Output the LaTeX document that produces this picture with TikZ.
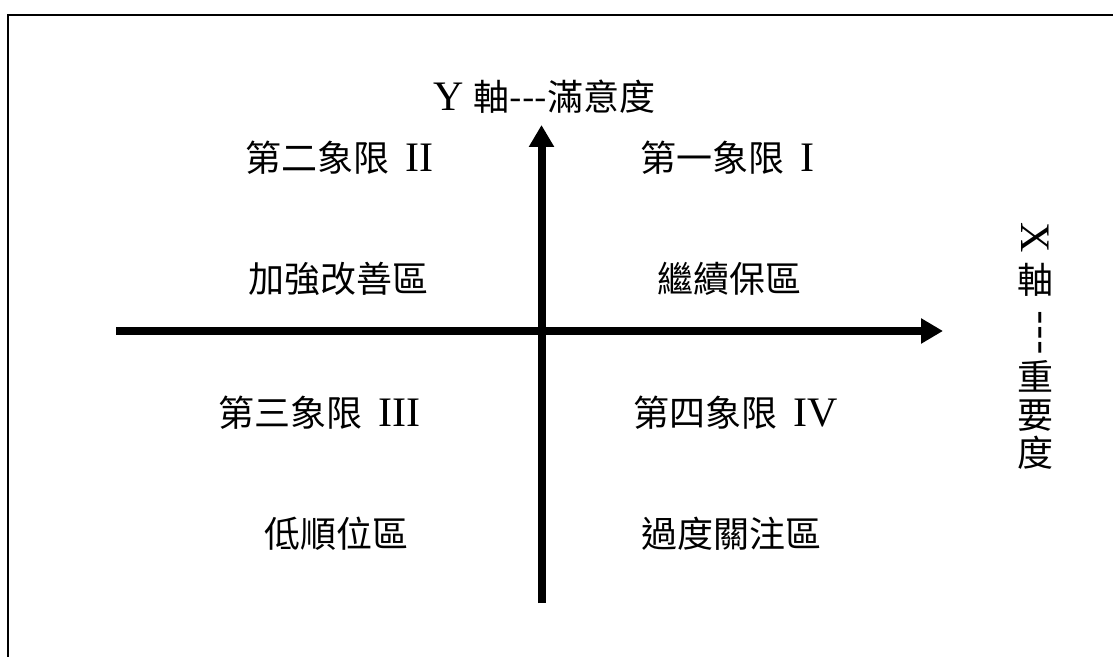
\documentclass[tikz,border=0pt]{standalone}
\usepackage{fontspec}
\setmainfont{Liberation Serif}
\newfontfamily\cjk{Noto Sans CJK TC}
\usetikzlibrary{arrows.meta}
\newcommand\latn[1]{{\fontsize{21}{22}\selectfont #1}}

\begin{document}
\begin{tikzpicture}[x=0.5pt,y=-0.5pt,
    axis/.style={line width=4pt,-{Triangle[length=11pt,width=12pt]}},
    quad/.style={font=\fontsize{18}{19}\selectfont,inner sep=0pt},
    vert/.style={quad,align=center}]
    \useasboundingbox (0,0) rectangle (1113,657);
    \draw[line width=1pt] (1113,15.5) -- (8,15.5) -- (8,657);
    % axes
    \coordinate (left) at (116,331);
    \coordinate (right) at (943,331);
    \coordinate (bottom) at (541.5,603);
    \coordinate (top) at (541.5,125);
    \draw[axis] (left) -- (right);
    \draw[axis] (bottom) -- (top);
    \node[quad,anchor=west] (ylabel) at (433,97) {\latn{Y}\hspace{5pt}{\cjk 軸---滿意度}};
    \node[vert] (xlabel) at (1035,346) {\rotatebox[origin=c]{-90}{\latn{X}}\\[2pt]{\cjk 軸}\\[4pt]\rotatebox[origin=c]{-90}{\fontsize{21}{22}\cjk ---}\\[2pt]{\cjk 重}\\{\cjk 要}\\{\cjk 度}};
    % quadrants
    \node[quad,anchor=west] (q2) at (245,158) {{\cjk 第二象限}\hspace{8pt}\latn{II}};
    \node[quad,anchor=west] (q1) at (640,158) {{\cjk 第一象限}\hspace{8pt}\latn{I}};
    \node[quad] (q2name) at (338,279) {\cjk 加強改善區};
    \node[quad] (q1name) at (729,279) {\cjk 繼續保區};
    \node[quad,anchor=west] (q3) at (218,413) {{\cjk 第三象限}\hspace{8pt}\latn{III}};
    \node[quad,anchor=west] (q4) at (633,413) {{\cjk 第四象限}\hspace{8pt}\latn{IV}};
    \node[quad] (q3name) at (336,534) {\cjk 低順位區};
    \node[quad] (q4name) at (731,534) {\cjk 過度關注區};
\end{tikzpicture}
\end{document}
